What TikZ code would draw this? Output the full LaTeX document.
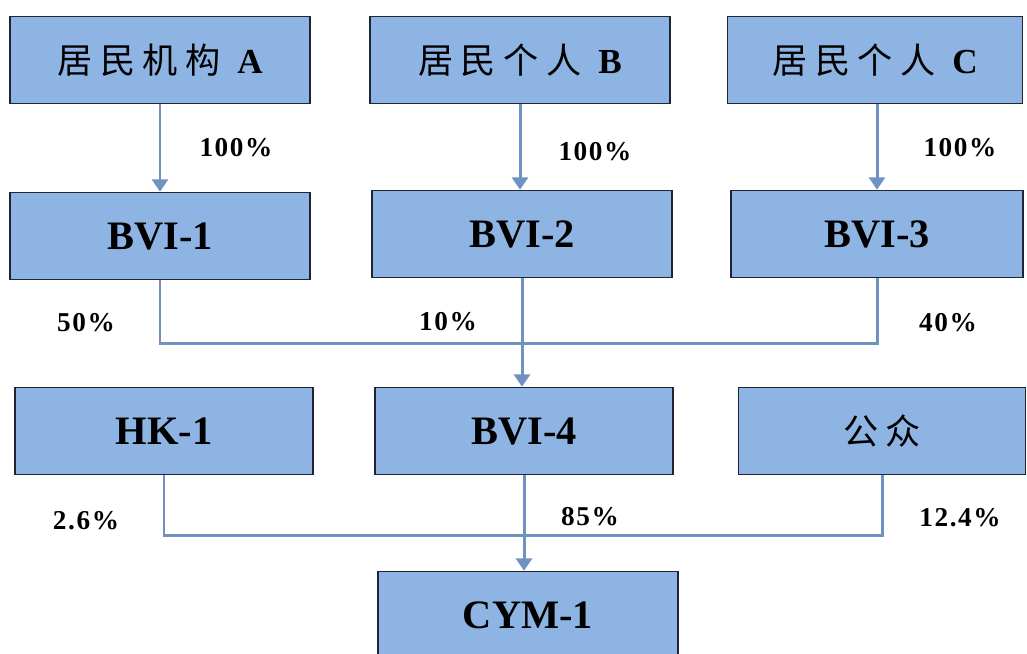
\documentclass[tikz,border=0pt]{standalone}
\usepackage{fontspec}
\setmainfont{Liberation Serif}
\newfontfamily\cjk[LetterSpace=22]{Noto Sans CJK SC}
\newfontfamily\pctfont[LetterSpace=6]{Liberation Serif}
\usetikzlibrary{arrows.meta}
\definecolor{boxfill}{RGB}{142,180,227}
\definecolor{boxline}{RGB}{30,38,52}
\definecolor{linkcol}{RGB}{112,146,194}

\begin{document}
\begin{tikzpicture}[x=0.02cm, y=-0.02cm,
		entity/.style={draw=boxline, line width=0.9pt, fill=boxfill, minimum width=6cm, minimum height=1.74cm, inner sep=0pt},
		idbox/.style={entity, font=\fontsize{23}{23}\selectfont\bfseries},
		namebox/.style={entity, font=\fontsize{20}{20}\selectfont},
		link/.style={draw=linkcol, line width=1.7pt},
		pct/.style={font=\fontsize{15.5}{15.5}\selectfont\pctfont\bfseries}]
		\clip (0,0) rectangle (1027,653);
		\useasboundingbox (0,0) rectangle (1027,653);
		\fill[white] (0,0) rectangle (1027,653);
		\node[namebox] (ownerA) at (160,60) {{\cjk 居民机构} \textbf{A}};
		\node[namebox] (ownerB) at (520,60) {{\cjk 居民个人} \textbf{B}};
		\node[namebox, minimum width=5.9cm] (ownerC) at (875,60) {{\cjk 居民个人} \textbf{C}};
		\node[idbox] (bvi1) at (160,236) {BVI-1};
		\node[idbox] (bvi2) at (522,234) {BVI-2};
		\node[idbox, minimum width=5.85cm] (bvi3) at (877,234) {BVI-3};
		\node[idbox, minimum width=5.96cm] (hk1) at (164,431) {HK-1};
		\node[idbox, minimum width=5.96cm] (bvi4) at (524,431) {BVI-4};
		\node[namebox, minimum width=5.74cm] (public) at (882,431) {\cjk 公众};
		\node[idbox] (cym1) at (528,615) {CYM-1};
		\coordinate (mergeA) at (522,343);
		\coordinate (mergeB) at (524,535);
		\draw[link, -{Triangle[width=9pt,length=7pt]}] (ownerA) -- (bvi1);
		\draw[link, -{Triangle[width=9pt,length=7pt]}] (ownerB.south) -- (ownerB.south |- bvi2.north);
		\draw[link, -{Triangle[width=9pt,length=7pt]}] (ownerC.south -| bvi3) -- (bvi3);
		\draw[link] (bvi1.south) |- (mergeA) -| (bvi3.south);
		\draw[link, -{Triangle[width=9pt,length=7pt]}] (mergeA |- bvi2.south) -- (mergeA |- bvi4.north);
		\draw[link] (hk1.south) |- (mergeB) -| (public.south);
		\draw[link, -{Triangle[width=9pt,length=7pt]}] (mergeB |- bvi4.south) -- (mergeB |- cym1.north);
		\node[pct] (pA) at (236,148) {100\%};
		\node[pct] (pB) at (595,152) {100\%};
		\node[pct] (pC) at (960,148) {100\%};
		\node[pct] (p1) at (86,323) {50\%};
		\node[pct] (p2) at (448,322) {10\%};
		\node[pct] (p3) at (948,323) {40\%};
		\node[pct] (p4) at (86,521) {2.6\%};
		\node[pct] (p5) at (590,517) {85\%};
		\node[pct] (p6) at (960,518) {12.4\%};
\end{tikzpicture}
\end{document}
